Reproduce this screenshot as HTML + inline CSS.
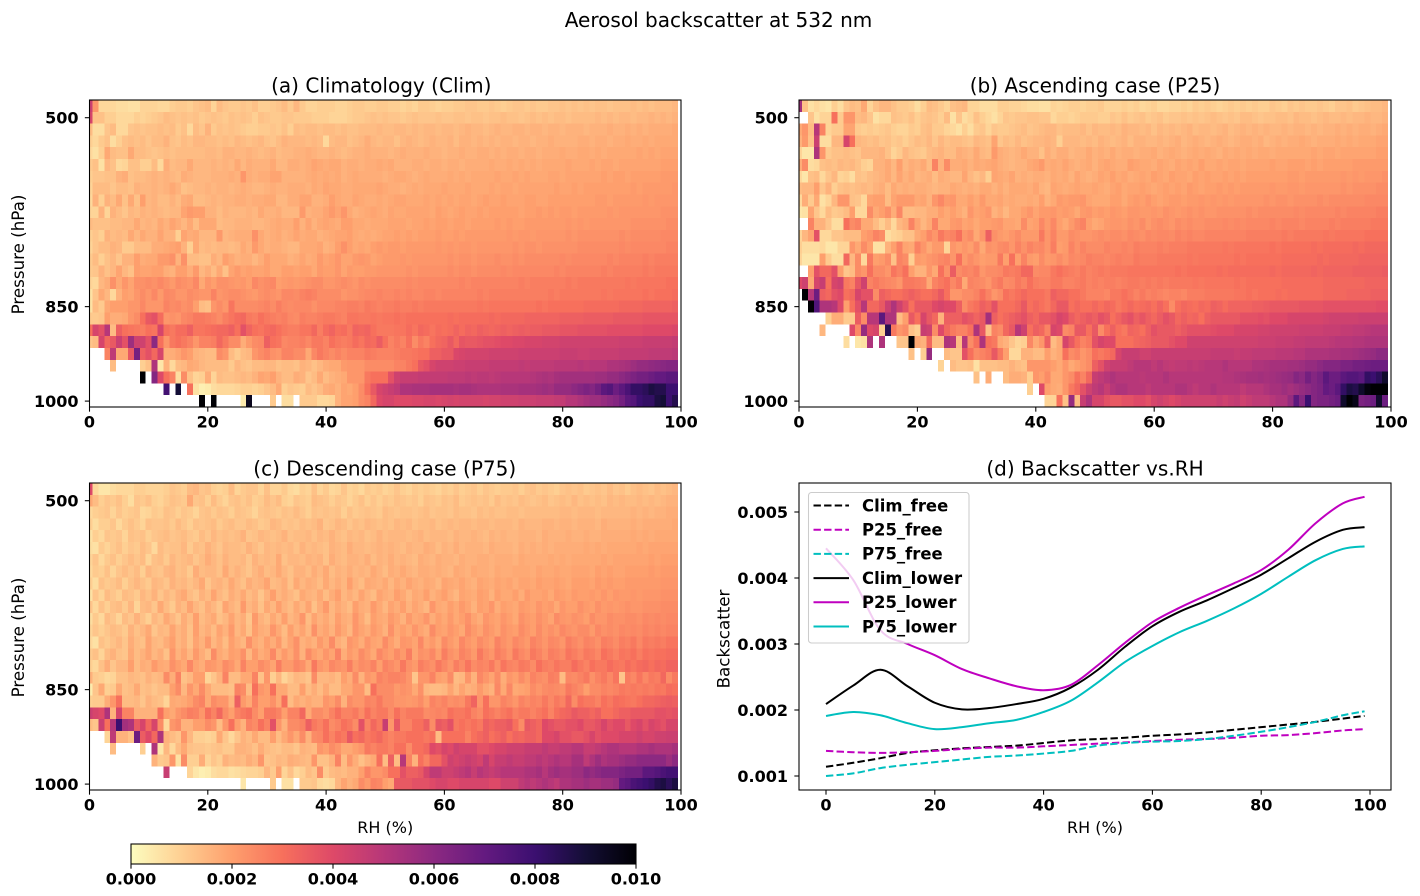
<!DOCTYPE html>
<html lang="en">
<head>
<meta charset="utf-8">
<title>Aerosol backscatter at 532 nm</title>
<style>
html,body{margin:0;padding:0;background:#fff;}
svg{display:block;}
text{font-family:"DejaVu Sans","Liberation Sans",sans-serif;fill:#000;}
.tick{font-weight:bold;font-size:16px;}
.ttl{font-size:20.05px;}
.lab{font-size:16px;}
.vlab{font-size:16.7px;}
.leg{font-weight:bold;font-size:16.45px;}
</style>
</head>
<body>
<svg id="fig" xmlns="http://www.w3.org/2000/svg" width="1420" height="896" viewBox="0 0 1420 896">
<rect x="0" y="0" width="1420" height="896" fill="#fff"/>
<text class="ttl" x="718.5" y="27" text-anchor="middle">Aerosol backscatter at 532 nm</text>
</svg>
<script>
// Heatmap values: backscatter in units of 1e-4 (0 = empty bin, drawn white). Rows top to bottom, columns RH 0..99.
const climRows = [
[45,22,8,8,8,7,7,6,6,9,9,9,8,8,10,11,11,10,12,13,14,9,14,12,11,11,12,11,13,10,10,11,12,14,11,15,11,9,9,10,10,10,9,9,10,11,11,10,10,11,11,10,10,9,10,9,11,11,10,9,10,10,11,11,12,12,11,11,12,11,10,11,12,12,11,12,11,11,12,12,13,12,13,12,13,12,13,13,12,13,13,13,14,13,14,13,14,14,14,15],
[42,13,13,10,10,8,8,8,10,9,10,11,12,14,13,12,13,12,13,11,12,13,12,11,13,12,13,12,10,13,12,11,11,12,12,11,11,11,10,10,10,9,9,9,10,11,11,12,13,12,13,12,12,11,12,13,12,12,12,13,12,12,13,13,12,13,13,12,13,13,14,13,13,12,13,14,13,14,13,14,14,13,14,14,14,14,15,14,15,14,15,15,14,15,15,16,15,16,15,16],
[14,7,7,12,14,8,8,12,13,12,13,13,14,13,14,11,13,8,14,12,16,11,13,12,13,12,11,10,10,11,11,12,11,13,10,14,13,14,14,13,14,14,13,14,13,13,14,14,14,15,14,14,15,15,14,15,14,15,15,14,15,15,14,15,16,15,15,14,15,16,15,15,16,16,15,16,16,15,16,16,15,16,16,16,15,16,16,16,17,16,16,17,16,17,16,17,17,17,17,18],
[10,8,11,13,7,10,13,14,13,14,12,14,14,16,13,12,14,13,15,15,14,14,13,14,13,15,14,13,14,15,13,12,14,16,15,15,15,14,15,14,8,14,15,15,13,14,15,17,15,14,15,15,13,15,16,15,14,15,16,15,15,16,14,16,16,15,16,15,16,15,16,16,15,16,16,15,16,16,17,16,16,16,16,17,17,16,17,17,16,17,17,18,17,17,18,17,18,18,18,18],
[8,6,10,18,14,13,13,18,14,14,13,12,13,14,13,14,14,14,14,14,15,15,14,16,16,15,15,16,15,14,15,16,14,15,15,16,16,17,16,15,15,16,15,14,15,16,16,17,16,16,16,15,16,17,16,16,16,17,16,16,15,16,16,17,16,16,17,17,16,17,16,17,17,16,17,17,16,17,17,17,18,17,17,18,18,17,18,17,18,18,18,18,18,19,18,19,18,19,19,19],
[11,13,6,15,13,8,9,13,13,10,10,14,8,17,14,15,15,18,15,15,15,16,15,16,15,18,15,17,16,16,16,18,15,15,17,17,16,17,19,18,17,18,18,16,17,17,16,17,17,18,17,18,16,16,16,17,17,16,17,17,16,17,17,16,17,17,17,17,18,17,17,18,17,18,17,18,17,18,18,18,18,19,18,18,18,19,18,19,19,18,19,19,19,19,19,19,19,20,20,20],
[10,12,12,13,13,16,17,13,14,14,15,16,15,16,15,14,17,16,15,15,15,16,16,16,17,16,22,17,16,17,17,19,19,16,16,16,16,17,18,17,18,17,18,16,17,18,17,17,17,17,16,17,18,18,17,16,17,18,17,17,17,18,17,18,17,18,18,18,18,19,18,18,19,18,19,18,18,18,19,19,18,19,19,19,19,19,19,20,19,20,20,19,20,20,20,20,20,21,21,21],
[9,14,14,14,12,14,14,13,16,15,15,16,15,16,18,16,13,14,15,15,16,15,16,16,15,16,17,16,15,15,16,17,16,16,17,17,17,16,18,17,19,18,18,17,17,18,18,18,18,19,18,17,17,16,17,18,17,18,18,18,19,18,18,18,19,18,18,18,19,18,19,19,18,19,19,19,19,19,19,20,19,19,20,19,20,20,20,20,20,20,20,20,21,20,21,21,21,21,21,22],
[8,16,10,16,14,18,13,18,13,20,15,16,14,14,16,14,17,18,14,14,15,16,15,16,16,17,17,16,17,17,18,18,15,15,17,17,19,19,16,16,17,20,18,17,17,19,18,17,17,18,17,18,19,19,18,18,18,19,18,19,18,19,18,19,19,18,19,20,19,19,20,19,19,19,20,20,19,19,20,20,20,20,20,20,20,20,21,21,20,21,21,21,21,21,22,21,22,22,22,22],
[9,9,16,9,16,14,12,15,14,16,15,16,15,14,15,15,19,21,20,20,16,16,14,16,15,15,15,16,15,18,16,16,17,15,15,15,21,16,17,17,19,21,19,22,18,16,17,18,19,18,17,19,18,18,19,19,19,19,18,20,19,18,19,20,19,19,20,19,20,20,20,20,20,19,20,20,21,20,21,20,21,21,20,21,21,21,21,21,22,21,22,22,22,22,22,22,22,23,23,23],
[14,13,13,13,14,14,15,15,18,15,16,15,18,16,19,17,15,18,14,18,18,18,14,15,15,16,16,16,15,15,16,17,18,17,17,20,16,19,16,18,19,18,17,20,20,18,18,17,18,18,18,19,19,19,18,19,19,20,19,20,20,19,20,20,19,20,20,20,20,21,20,21,20,20,21,21,21,21,21,21,21,22,21,22,21,22,22,22,22,22,22,22,23,23,23,23,23,23,24,24],
[10,12,10,16,14,15,14,18,15,18,16,16,19,16,16,10,19,17,18,15,15,15,21,15,16,17,17,17,23,18,16,17,18,16,17,19,17,18,18,16,17,18,19,19,20,18,17,18,17,18,19,19,20,19,20,19,20,20,20,21,20,20,21,20,21,21,21,21,21,21,21,22,21,22,22,21,22,22,22,22,22,23,22,23,23,23,23,23,23,23,24,23,24,24,24,24,24,25,25,25],
[9,12,14,14,16,15,11,11,14,14,14,17,17,18,19,20,16,10,18,14,15,14,15,15,14,15,18,16,21,18,16,17,17,16,15,15,18,18,18,19,16,17,20,23,20,18,19,18,20,21,20,21,21,20,21,21,21,21,21,22,21,22,21,22,22,21,22,22,22,22,22,22,23,22,23,23,22,23,23,23,23,23,23,24,24,24,24,24,24,24,25,24,25,25,25,25,25,25,26,26],
[11,14,10,13,15,12,16,16,20,17,18,18,21,21,23,16,23,14,14,13,13,17,15,20,18,16,17,17,15,17,20,18,18,18,16,17,19,17,18,21,19,20,22,19,19,21,22,21,19,20,21,21,21,22,21,22,22,22,22,22,22,23,22,23,23,22,23,23,23,24,23,23,24,23,24,24,24,24,24,24,25,24,25,25,25,25,25,25,26,25,26,26,26,26,27,26,27,27,27,27],
[11,12,16,13,15,19,15,13,20,19,19,20,20,17,16,20,20,17,21,15,17,14,18,13,19,21,19,20,19,19,20,18,18,20,20,19,20,20,18,21,20,20,22,19,21,20,20,21,21,22,22,22,22,22,23,22,23,23,23,23,23,24,23,24,24,23,24,24,24,24,25,24,25,25,25,25,25,25,25,26,25,26,26,26,26,26,26,27,26,27,27,27,27,27,28,27,28,28,28,28],
[9,8,15,17,23,18,22,19,23,23,24,23,25,23,21,24,23,22,25,18,22,20,23,23,22,21,22,20,25,23,24,25,20,21,22,21,22,23,24,24,22,22,23,24,23,22,24,23,24,24,24,24,24,24,25,24,25,25,25,25,25,25,25,26,25,26,26,26,26,26,26,26,26,27,26,27,27,27,27,27,27,28,27,28,28,28,28,28,28,28,28,29,28,29,29,29,29,29,30,30],
[6,12,18,15,8,16,20,19,22,24,22,25,21,25,24,22,22,24,23,22,22,26,22,23,24,24,23,22,21,23,24,23,22,25,25,24,26,27,26,24,24,24,24,22,23,23,24,25,25,26,25,25,26,25,26,25,25,26,26,25,26,26,26,26,26,26,27,26,27,27,27,27,27,27,27,27,27,27,28,27,28,28,28,28,28,28,28,29,28,29,29,29,29,29,30,29,30,30,30,31],
[6,14,11,18,20,20,20,22,22,25,22,22,22,26,24,25,23,24,20,14,13,22,24,22,29,24,24,24,24,25,26,24,27,25,24,25,25,25,23,25,25,25,26,26,27,27,26,28,27,26,27,27,28,27,27,28,27,28,28,28,28,28,28,28,28,28,29,28,29,29,29,29,29,29,29,29,30,29,30,30,30,30,30,30,31,31,31,31,31,31,32,32,32,32,33,33,33,33,33,34],
[11,11,12,20,17,17,18,22,24,30,36,38,31,22,23,22,25,26,28,28,27,26,24,27,29,31,32,28,27,30,28,27,26,27,25,24,27,26,26,27,28,28,27,26,29,29,28,28,29,28,29,29,30,29,30,30,30,30,30,30,30,31,30,31,31,31,31,31,32,31,32,32,32,32,33,33,33,33,33,33,34,34,34,34,35,35,35,35,35,36,36,36,36,36,37,37,37,37,37,37],
[30,42,38,50,14,34,30,29,28,27,30,29,42,30,28,31,31,34,29,29,30,31,32,32,34,30,38,33,30,29,31,32,30,28,27,27,29,29,32,27,31,33,30,31,28,33,32,33,30,28,28,28,29,29,31,29,32,31,29,31,30,31,33,31,33,32,34,33,32,33,34,33,34,35,34,35,35,36,36,36,37,37,37,38,38,38,38,38,39,39,39,39,39,39,40,40,40,40,40,41],
[12,14,42,32,36,45,38,56,44,44,38,60,30,22,28,30,28,26,22,26,26,27,32,28,24,24,17,21,24,25,34,30,29,25,26,26,27,25,28,28,26,30,28,27,28,31,29,32,31,35,30,26,28,26,30,24,28,26,30,32,33,36,32,37,36,36,37,38,38,39,40,40,41,41,42,42,42,43,43,43,44,44,44,44,44,44,44,44,44,44,45,45,45,45,46,46,46,46,46,47],
[0,0,0,26,48,18,18,36,66,34,38,32,42,17,17,19,22,20,16,15,14,14,24,22,14,11,14,15,22,24,26,23,22,26,26,24,24,18,25,28,26,24,26,24,26,26,26,28,27,26,26,26,27,28,28,29,30,30,34,34,36,36,41,42,43,43,43,43,44,44,44,44,44,45,45,45,45,45,45,45,46,46,46,45,45,46,46,46,46,46,47,47,47,47,47,48,48,48,48,49],
[0,0,0,0,14,0,0,0,0,10,13,52,5,16,8,14,15,18,17,15,14,14,14,14,11,15,13,12,14,14,15,15,13,14,14,13,16,15,13,15,17,18,18,21,22,22,22,24,24,24,24,24,26,26,28,30,36,38,42,44,44,44,45,45,46,46,46,46,47,47,47,47,47,48,47,48,48,48,48,49,49,49,49,50,49,50,50,50,52,52,53,54,56,58,58,59,60,61,62,62],
[0,0,0,0,0,0,0,0,0,100,0,62,40,30,26,7,24,13,9,10,17,9,14,13,13,14,15,14,16,19,18,20,16,14,14,17,16,12,14,18,14,16,17,18,22,22,22,28,30,30,30,38,44,46,46,46,47,47,47,47,47,48,48,48,49,48,49,49,48,49,50,50,50,50,50,51,52,53,52,54,55,55,55,55,55,55,56,56,58,58,60,62,64,66,66,68,70,70,72,72],
[0,0,0,0,0,0,0,0,0,0,0,0,0,78,0,90,0,30,6,3,4,7,8,8,8,9,10,10,9,10,12,14,18,10,12,11,10,14,12,14,17,18,16,19,18,20,24,30,36,42,44,46,48,52,52,53,53,53,54,54,54,54,53,54,54,53,52,52,52,52,53,53,53,54,54,54,55,56,55,58,58,58,60,62,64,62,66,72,74,68,72,76,82,82,84,88,86,86,80,80],
[0,0,0,0,0,0,0,0,0,0,0,0,0,0,0,0,0,0,0,100,0,100,0,0,0,0,4,95,0,0,0,11,0,7,7,0,11,11,11,8,8,9,16,19,19,20,24,26,32,40,42,42,40,40,40,41,41,42,42,41,42,43,42,43,43,43,43,42,43,43,44,44,44,45,45,45,46,46,46,47,47,50,50,52,54,56,56,58,60,62,66,72,74,80,82,82,88,90,80,86]
];
const ascRows = [
[55,13,6,8,6,5,10,7,12,14,13,18,9,13,15,15,13,11,11,10,7,10,14,13,11,9,13,14,15,9,9,7,7,7,10,10,9,9,8,7,7,6,6,9,8,9,10,10,9,10,10,11,9,9,9,10,9,10,8,9,10,8,8,9,9,10,9,11,10,11,10,9,10,11,10,11,10,11,10,10,12,11,10,12,11,12,11,11,12,11,10,12,12,13,11,12,13,14,14,15],
[0,0,12,6,9,9,30,11,22,22,14,15,12,6,8,8,13,12,11,13,10,12,13,12,10,14,6,12,7,9,13,10,8,6,9,12,11,12,12,13,13,12,12,8,10,10,9,10,11,11,11,10,10,12,11,13,11,12,13,11,12,13,11,12,12,13,12,13,12,13,14,13,12,13,12,14,14,13,12,13,13,14,14,13,15,14,14,13,14,15,14,14,15,14,15,15,16,15,15,16],
[18,22,14,50,26,9,11,11,19,19,11,10,11,10,11,12,10,9,9,11,10,13,14,11,11,9,8,6,10,7,11,12,9,12,11,11,12,13,14,12,13,14,15,15,13,14,14,14,15,13,15,14,14,15,14,16,15,15,14,15,13,15,14,15,14,15,16,14,15,15,14,15,16,14,15,16,15,16,15,16,15,15,16,15,16,16,15,16,15,16,16,17,16,17,16,17,17,16,17,18],
[16,21,13,45,7,7,15,15,42,30,15,14,13,14,12,13,11,12,10,12,14,13,15,12,15,13,14,14,13,12,15,14,13,19,12,14,13,15,13,14,15,15,16,15,10,15,15,15,14,15,14,16,15,14,15,16,14,16,16,15,15,16,15,16,17,15,16,17,16,15,16,17,16,15,16,17,17,16,17,15,16,17,16,17,17,18,17,16,17,17,17,18,17,18,17,18,18,18,19,19],
[9,5,5,52,22,11,13,13,14,13,12,15,15,15,16,13,9,11,15,13,12,11,14,15,16,14,14,17,16,15,18,15,14,21,17,16,15,16,18,16,16,13,17,15,17,17,15,16,16,18,16,17,16,18,16,17,17,16,17,17,18,16,17,18,17,16,17,18,17,18,17,16,18,17,18,17,18,17,18,18,17,18,18,18,18,18,18,19,18,19,19,18,19,19,19,19,19,19,20,20],
[17,24,7,8,13,14,13,15,14,15,13,10,9,16,16,18,15,20,15,17,16,18,14,26,16,24,17,17,18,16,18,17,18,19,17,16,15,16,16,18,19,21,17,18,17,19,17,16,17,18,16,18,19,18,17,17,20,19,18,18,17,19,18,17,19,18,19,18,20,18,18,19,18,19,19,18,19,19,19,19,20,19,19,20,20,20,19,20,19,20,20,20,20,20,21,21,21,21,21,21],
[8,5,13,14,8,12,15,9,10,7,13,12,14,15,16,18,15,19,16,18,15,16,17,14,17,16,15,15,19,15,13,15,10,19,18,17,19,16,17,16,17,17,16,18,17,18,16,19,17,16,17,19,18,20,18,19,17,18,19,18,20,19,18,20,19,19,18,20,19,20,19,19,20,19,20,19,20,20,20,20,20,20,20,21,21,20,21,21,21,21,21,21,22,21,22,21,22,22,22,23],
[14,15,15,20,12,16,10,13,14,13,14,15,14,16,17,14,18,16,17,16,17,17,16,15,16,16,18,17,16,17,16,18,18,16,18,16,18,18,18,17,19,16,15,19,18,17,18,19,18,18,19,18,17,19,20,18,19,19,20,19,18,19,20,19,20,19,21,20,19,20,20,21,20,21,20,21,21,21,21,21,22,21,21,22,22,21,22,22,22,22,22,22,23,22,23,23,23,23,24,24],
[8,17,11,18,6,9,15,22,22,13,12,8,19,20,20,14,19,21,21,21,18,19,16,22,25,21,22,18,18,20,18,21,18,18,19,17,18,17,17,18,17,20,16,18,21,20,21,21,22,19,18,18,18,20,20,18,20,21,20,22,20,19,20,21,21,20,21,21,22,21,22,21,22,21,22,22,22,22,22,23,22,23,23,22,23,23,23,23,24,23,24,24,24,24,24,24,25,25,25,25],
[5,6,19,12,8,14,11,12,14,20,8,8,24,18,20,23,17,25,14,14,15,15,17,17,20,18,20,18,16,22,19,20,22,16,18,15,18,18,20,22,19,21,21,22,20,21,20,18,21,22,20,21,20,22,21,20,22,22,21,21,22,21,23,22,21,22,23,22,23,22,22,23,23,23,23,23,24,23,24,24,24,24,24,24,25,24,25,25,25,25,25,26,25,26,26,26,26,26,27,27],
[0,0,26,16,16,12,7,7,30,24,26,18,18,14,10,14,8,15,17,26,19,15,18,26,18,18,21,22,19,20,18,20,20,21,22,19,19,18,24,19,20,25,21,25,20,18,21,24,26,20,18,19,21,22,22,21,23,22,24,21,23,24,23,22,24,23,24,23,23,24,24,24,25,24,25,24,25,25,25,25,26,25,26,26,26,25,26,26,26,26,27,26,27,27,27,27,27,28,28,28],
[9,15,19,38,8,8,12,12,14,14,14,20,22,26,24,7,9,10,13,13,18,20,25,22,28,25,26,30,22,24,18,22,34,23,21,20,22,24,21,21,21,28,22,26,21,21,24,23,22,22,23,24,23,24,24,23,25,24,23,25,24,25,25,24,26,25,26,25,25,26,26,26,26,26,26,26,27,27,27,27,27,27,28,27,28,28,28,28,28,29,28,29,29,29,29,29,30,30,30,30],
[10,7,7,7,8,5,5,9,9,22,18,24,20,6,6,16,20,26,19,18,26,22,18,21,21,9,22,20,22,20,24,18,23,22,24,25,22,26,23,26,24,25,22,27,20,21,26,23,26,24,24,24,26,25,25,26,25,27,26,26,26,27,26,27,27,27,28,28,28,28,28,28,29,28,29,29,29,29,29,29,30,29,30,30,30,30,30,31,30,31,31,31,31,31,32,31,32,32,32,32],
[9,5,5,5,20,11,7,7,32,15,24,8,28,20,21,24,13,26,24,10,21,20,22,23,25,26,22,30,21,24,22,20,21,21,28,20,30,20,26,21,20,24,21,22,24,22,25,24,25,27,26,26,25,26,27,26,26,28,27,27,27,28,28,28,28,28,29,28,29,29,29,29,29,29,30,29,30,30,30,30,30,30,31,31,31,31,31,31,32,31,32,32,32,32,32,33,33,33,33,33],
[0,0,20,38,32,32,38,20,12,14,24,22,30,24,24,22,29,26,30,20,16,16,22,18,30,23,35,24,26,25,27,22,24,24,25,28,27,28,32,32,24,25,25,28,30,28,27,26,28,26,27,28,27,28,28,28,29,29,29,29,29,29,29,29,30,29,30,30,30,30,30,31,30,31,31,31,31,31,31,31,32,31,32,32,32,32,32,33,32,33,33,33,33,33,34,34,34,34,34,35],
[40,44,18,42,46,30,42,44,28,26,36,44,26,28,26,25,24,22,28,28,27,26,18,26,28,30,25,28,18,26,25,24,22,26,28,24,25,28,26,30,27,26,26,28,28,26,26,27,28,26,27,26,27,27,26,27,28,28,27,28,27,28,27,28,28,28,28,29,28,29,29,29,29,29,30,29,30,30,30,30,30,30,31,31,31,31,31,31,31,32,32,32,32,32,32,32,33,33,33,33],
[0,100,50,68,34,32,38,40,30,32,42,38,38,24,34,32,30,30,32,34,32,30,30,32,36,30,22,22,24,24,26,30,26,22,24,30,28,30,32,30,30,30,28,34,32,32,30,30,28,26,26,26,25,28,28,30,28,26,28,26,27,26,25,26,26,25,27,27,27,28,28,28,28,28,29,29,30,29,30,30,30,31,30,31,31,31,31,31,31,32,32,32,32,33,33,33,33,34,34,34],
[0,0,100,75,52,52,50,40,20,30,38,50,32,32,36,45,52,44,38,30,36,36,36,40,42,40,40,34,24,28,30,34,32,38,30,30,30,32,36,30,32,30,28,32,36,36,30,32,30,30,32,30,32,31,28,30,32,30,31,32,30,33,30,24,30,32,31,30,32,31,34,33,31,33,33,33,33,34,34,35,36,36,36,36,36,37,37,37,37,38,38,38,38,38,38,38,38,38,39,39],
[0,0,0,0,0,10,17,17,11,11,35,24,50,50,72,52,52,14,20,36,30,42,36,32,16,34,34,34,38,36,33,36,55,34,30,32,34,36,38,34,32,36,36,38,42,40,35,32,34,36,34,38,36,30,33,36,38,34,37,34,32,35,38,36,32,34,32,33,30,34,36,36,36,36,36,38,38,38,39,38,40,40,40,42,42,42,42,42,42,43,44,44,44,44,44,45,45,45,45,45],
[0,0,0,0,15,0,0,0,0,40,25,58,40,42,10,85,28,22,24,13,10,46,44,24,40,32,28,26,26,30,52,36,13,26,24,32,36,50,44,30,34,32,26,42,40,24,26,36,36,30,36,24,30,34,30,28,33,32,30,34,38,36,36,36,34,36,38,38,38,38,39,40,40,40,42,42,42,42,43,43,44,44,44,44,44,45,45,45,45,46,46,46,47,47,48,48,49,50,50,50],
[0,0,0,0,0,0,0,0,7,0,5,6,52,0,52,0,0,12,12,100,18,16,32,14,14,52,50,14,50,24,30,52,30,28,18,16,12,9,10,25,18,22,34,14,18,42,36,30,26,28,38,42,40,40,30,30,30,32,33,34,36,36,36,38,40,40,44,44,44,44,44,44,44,44,44,44,44,44,45,45,45,46,46,46,47,47,48,48,48,48,49,50,50,50,51,51,52,52,52,52],
[0,0,0,0,0,0,0,0,0,0,0,0,0,0,0,0,0,0,0,13,0,10,58,0,0,14,12,12,38,30,24,26,28,36,28,20,8,8,16,16,14,14,20,16,18,30,24,26,22,24,30,28,30,32,42,46,46,46,44,44,46,46,46,46,46,46,46,46,46,46,47,47,47,47,46,47,47,48,48,48,48,49,49,49,50,50,52,52,52,52,53,53,54,54,55,56,57,58,60,60],
[0,0,0,0,0,0,0,0,0,0,0,0,0,0,0,0,0,0,0,0,0,0,0,0,9,0,14,12,12,13,6,13,13,13,14,14,16,14,13,22,22,22,22,20,18,22,18,20,22,24,34,38,44,46,46,46,48,50,50,50,48,50,48,47,48,48,49,48,49,50,50,50,52,50,50,50,50,52,52,53,54,54,54,55,55,56,58,58,60,62,62,62,64,64,66,66,67,68,68,68],
[0,0,0,0,0,0,0,0,0,0,0,0,0,0,0,0,0,0,0,0,0,0,0,0,0,0,0,0,0,0,13,0,17,0,0,14,17,17,16,10,22,20,24,18,18,22,24,30,26,32,46,48,50,52,50,50,50,50,49,50,50,50,52,50,50,50,50,50,50,50,50,50,51,51,52,53,54,54,55,54,55,56,57,58,62,60,66,62,65,72,68,68,72,74,74,72,82,80,84,92],
[0,0,0,0,0,0,0,0,0,0,0,0,0,0,0,0,0,0,0,0,0,0,0,0,0,0,0,0,0,0,0,0,0,0,0,0,0,0,0,10,0,40,20,18,17,22,28,32,38,44,48,50,46,50,52,52,50,50,50,48,50,50,50,50,52,52,50,48,50,50,52,50,50,50,50,48,50,50,50,52,54,54,56,54,56,58,60,62,64,70,68,72,82,88,86,92,98,100,100,100],
[0,0,0,0,0,0,0,0,0,0,0,0,0,0,0,0,0,0,0,0,0,0,0,0,0,0,0,0,0,0,0,0,0,0,0,0,0,0,0,0,0,0,9,9,30,13,58,14,46,52,42,42,38,36,36,38,38,40,40,38,42,44,42,40,42,44,44,44,44,44,44,46,44,46,47,44,46,48,48,48,50,52,52,58,72,62,80,62,64,64,66,68,92,100,96,64,66,68,92,68]
];
const descRows = [
[40,8,5,5,7,8,8,8,10,10,9,9,9,10,12,11,10,14,15,12,13,10,9,10,14,9,11,12,12,9,13,9,9,11,8,7,10,9,13,9,11,8,9,12,9,10,8,11,10,11,9,10,12,10,9,11,10,11,10,9,11,10,12,10,11,12,10,12,11,10,11,11,12,10,12,13,11,12,11,10,12,13,12,13,11,12,13,12,14,12,13,11,13,14,13,12,14,13,14,15],
[18,14,10,12,11,13,10,7,12,11,13,10,9,11,13,12,11,18,12,13,10,14,11,9,12,13,11,13,10,11,14,12,14,10,9,12,11,10,14,13,12,10,12,11,9,11,13,10,12,10,12,11,13,12,11,12,10,13,12,11,13,12,14,11,12,13,12,13,11,14,12,13,12,14,13,12,13,14,12,13,14,13,15,13,14,13,14,13,15,14,15,14,14,15,14,15,14,15,16,16],
[8,10,11,12,9,12,10,11,12,8,9,11,10,13,12,10,12,11,9,12,13,11,13,12,10,13,12,11,9,12,13,12,11,13,12,14,12,10,13,12,13,12,13,10,13,11,12,13,12,11,14,13,12,13,13,12,13,14,12,13,13,12,14,13,13,12,14,13,14,13,13,14,14,13,14,14,14,14,14,14,15,15,14,15,15,15,14,15,15,15,15,15,16,15,16,15,16,16,17,17],
[10,7,10,10,12,8,11,13,11,9,13,12,12,13,11,14,12,10,13,12,13,14,11,13,14,12,12,14,13,11,12,15,14,12,13,12,14,13,14,16,12,13,15,14,12,14,13,15,14,13,14,13,15,14,15,13,14,14,15,13,14,15,14,15,15,14,15,15,14,15,15,15,14,16,15,15,15,16,16,15,16,16,15,16,16,16,15,17,16,16,16,16,17,16,17,17,17,17,17,18],
[6,10,8,12,11,12,9,13,12,13,10,12,13,14,12,13,14,12,11,14,12,15,13,14,13,14,16,12,13,15,14,13,14,16,13,14,14,15,13,15,14,16,14,13,15,14,15,13,14,16,14,15,15,15,14,15,16,14,15,15,15,14,16,15,15,16,15,14,16,15,16,15,15,16,16,16,15,17,16,16,16,17,16,16,17,16,16,17,17,17,17,17,18,17,18,17,18,18,18,18],
[7,6,11,9,11,13,10,12,11,14,12,8,14,12,13,13,15,11,14,13,16,14,12,15,14,14,13,16,14,12,15,14,15,14,15,13,16,14,15,14,13,16,15,14,17,15,15,14,15,16,15,16,15,14,16,15,15,17,16,14,16,15,17,15,16,16,16,15,17,16,16,16,15,17,16,17,16,17,16,17,17,17,17,17,18,17,18,17,18,18,18,18,18,19,18,19,19,19,19,19],
[9,12,8,11,13,10,12,14,12,14,9,13,14,11,15,13,14,15,12,14,17,15,13,16,14,14,15,12,16,14,15,14,18,13,15,15,14,16,15,16,13,17,15,14,16,16,15,17,14,16,15,17,15,16,15,14,17,16,15,17,16,16,15,17,16,16,17,17,16,17,17,17,16,18,17,17,17,17,18,17,18,17,18,18,18,18,18,19,18,19,19,19,19,19,19,20,19,20,20,20],
[8,11,10,13,9,12,14,12,14,10,15,13,12,15,16,13,14,11,17,14,15,15,13,18,14,16,14,12,15,17,14,15,18,15,13,16,16,14,17,15,18,14,16,15,17,15,16,15,18,16,14,17,16,18,16,15,17,17,16,17,16,15,18,17,16,18,17,17,16,18,17,17,18,18,18,17,19,18,18,19,18,18,19,19,19,18,20,19,20,19,19,20,20,20,20,21,20,21,21,21],
[10,7,13,11,12,14,10,13,15,13,11,15,14,12,16,14,15,13,15,18,12,15,16,14,18,15,13,17,15,16,19,14,15,17,13,18,15,17,16,14,18,15,17,15,20,16,14,18,17,16,18,15,18,16,19,17,16,18,17,15,19,18,17,19,17,16,19,18,17,19,18,19,17,19,19,18,20,19,19,20,19,18,20,20,20,19,21,20,21,20,20,21,21,21,21,21,21,22,22,22],
[6,12,9,14,12,10,14,13,11,15,13,16,12,15,13,16,18,14,12,16,14,19,15,13,17,15,18,14,16,12,16,20,15,17,15,13,18,16,15,18,14,17,20,15,17,15,19,16,14,19,17,16,20,18,15,18,17,20,16,18,20,17,15,19,18,17,20,19,16,20,18,18,20,17,21,19,19,20,18,21,20,19,21,20,20,21,20,22,20,22,21,21,22,21,22,22,22,23,23,23],
[12,8,13,10,13,14,11,15,9,14,15,12,18,14,11,16,14,19,15,13,17,15,12,19,16,14,21,15,17,13,18,15,20,16,14,18,15,19,13,17,21,15,18,16,14,20,17,16,21,18,15,19,17,20,16,19,17,15,22,18,17,20,18,21,19,16,20,19,22,17,20,19,18,21,20,19,22,20,21,18,22,20,20,23,21,20,23,21,22,21,22,23,22,22,23,23,23,24,24,24],
[7,11,8,14,12,9,14,12,16,13,10,15,13,18,15,12,17,14,20,14,16,18,13,15,19,15,17,12,21,16,14,18,15,20,15,17,22,14,19,16,18,15,20,17,16,22,18,14,20,18,17,21,19,16,21,18,19,22,17,20,18,21,18,20,23,19,17,22,20,19,22,20,18,23,21,20,23,21,19,24,22,21,23,22,20,24,22,22,24,23,23,24,24,23,25,24,25,24,25,25],
[9,12,10,12,14,13,11,16,13,15,18,12,15,14,19,15,17,13,20,15,17,14,19,16,21,15,18,13,20,17,16,22,18,14,20,16,19,15,23,17,19,16,21,18,15,22,19,17,21,19,16,23,18,20,18,22,19,17,24,20,19,22,20,18,24,21,19,23,21,19,23,21,20,24,22,20,24,21,23,21,25,23,22,24,24,21,25,23,24,23,25,24,25,24,26,25,26,25,26,26],
[8,6,13,11,13,15,12,17,14,13,19,15,14,17,20,15,17,13,19,16,21,15,18,14,20,17,15,23,18,16,20,17,21,15,19,23,16,18,16,21,18,24,17,15,22,20,17,22,19,18,24,20,17,22,21,19,25,19,21,18,24,21,19,25,22,20,24,22,20,26,23,21,25,23,21,26,24,22,25,24,22,27,25,23,26,25,23,27,26,24,27,26,28,25,28,27,28,27,29,29],
[11,13,9,14,16,13,12,18,14,16,19,15,17,13,22,16,19,15,21,17,14,24,18,16,20,19,23,15,21,17,19,25,17,21,18,23,16,24,20,18,22,19,26,17,21,19,24,21,18,25,22,20,24,21,27,19,23,22,25,20,27,23,21,26,24,21,28,24,22,27,25,22,28,25,23,28,26,23,27,26,24,29,27,25,28,27,25,30,28,26,29,28,30,27,30,29,30,30,31,31],
[10,8,13,17,12,15,15,20,14,17,16,21,18,17,23,20,18,25,19,17,22,21,19,24,22,18,26,20,20,24,22,19,27,21,21,25,23,18,28,22,20,25,23,22,27,21,24,23,26,20,26,24,22,28,23,21,27,25,23,28,25,22,27,24,29,24,26,25,28,23,29,26,25,28,27,24,30,27,26,29,27,27,31,28,26,30,28,28,31,29,28,31,29,31,32,30,32,31,33,33],
[16,11,10,8,9,13,13,15,14,13,16,14,15,24,17,26,13,15,20,20,9,12,16,26,14,14,18,18,26,13,22,10,15,9,12,15,14,12,24,15,15,16,14,20,17,24,16,22,20,26,24,26,26,25,22,12,22,22,26,20,19,24,14,15,22,16,25,22,19,24,17,22,20,24,21,26,24,23,27,26,14,25,24,26,28,23,26,28,25,29,12,27,25,29,25,28,27,32,24,28],
[4,12,18,10,11,18,13,14,18,13,14,12,14,14,20,24,15,22,18,24,18,14,14,14,13,26,24,14,30,22,20,30,18,18,14,14,20,14,17,14,18,14,14,18,18,22,22,14,30,24,24,24,21,23,22,18,23,15,14,14,15,19,15,19,16,17,21,18,16,25,18,25,18,19,20,24,22,24,25,24,23,28,26,24,20,24,24,26,25,26,28,27,28,27,28,27,29,28,31,30],
[10,11,11,17,22,30,14,14,15,12,16,14,13,9,18,17,18,20,24,26,18,24,22,22,16,34,21,18,26,20,20,23,18,30,14,18,16,18,16,16,22,20,24,16,24,22,22,26,25,28,24,24,22,22,21,22,24,20,26,24,26,23,24,23,28,33,22,30,22,22,26,24,22,26,24,26,25,28,25,28,26,32,24,30,28,28,26,30,28,31,30,29,28,30,32,32,33,34,35,34],
[45,42,40,52,16,42,26,26,16,16,16,16,30,20,18,22,24,27,26,22,30,26,32,24,20,26,28,30,24,20,28,28,26,20,26,26,32,18,24,24,22,26,30,26,26,28,24,30,26,28,28,24,30,26,28,28,28,24,25,26,25,30,28,28,30,26,24,30,28,26,28,30,26,28,28,26,28,30,26,30,32,33,36,34,34,32,34,30,30,32,34,34,36,36,36,36,38,38,37,38],
[14,12,45,30,50,80,55,52,36,42,32,42,24,8,22,24,16,16,20,20,24,22,14,22,30,20,16,26,24,30,26,38,22,16,24,24,26,34,28,26,30,24,26,30,28,24,38,26,32,28,46,22,36,26,26,30,30,34,24,36,34,38,28,30,28,30,28,34,32,34,34,36,30,24,36,34,32,40,38,36,36,38,38,40,36,36,38,42,38,40,40,36,40,42,38,42,40,38,42,42],
[0,0,0,9,48,16,16,13,68,35,40,32,52,16,14,12,22,15,10,10,9,10,18,12,8,12,16,14,18,14,14,20,14,18,22,18,24,16,24,25,30,26,30,28,36,30,32,28,30,32,28,26,28,28,30,30,30,28,30,14,30,30,30,30,26,30,32,34,30,32,34,30,33,32,34,34,32,40,40,42,38,38,36,36,38,42,38,40,40,40,42,42,42,44,42,42,44,44,45,45],
[0,0,0,0,14,0,0,0,0,10,0,52,5,15,8,14,18,13,12,12,11,12,13,11,11,16,16,15,13,17,14,13,12,14,14,12,16,15,14,22,20,24,22,18,18,20,22,28,26,28,28,26,30,30,24,30,30,32,40,38,42,40,44,42,42,42,38,38,40,42,42,44,44,44,46,46,46,48,46,46,48,48,50,50,46,46,48,50,52,52,50,50,50,52,52,54,52,52,52,54],
[0,0,0,0,0,0,0,0,0,0,0,16,11,12,22,6,24,10,10,17,9,12,10,16,14,15,14,17,15,22,12,13,15,14,17,16,15,14,22,13,13,16,26,14,22,17,13,16,18,30,14,34,14,50,26,16,30,26,32,32,38,44,42,44,46,44,42,48,42,46,46,48,46,46,48,48,50,48,50,52,50,50,54,54,48,52,56,52,54,54,56,58,58,60,60,60,60,60,56,60],
[0,0,0,0,0,0,0,0,0,0,0,0,0,46,0,0,0,9,5,3,4,7,8,8,6,7,8,9,9,10,15,11,20,9,13,8,10,14,12,24,11,14,15,14,16,16,20,26,22,22,24,30,30,38,34,34,36,42,48,48,44,44,46,48,50,46,50,48,46,48,50,50,50,50,52,52,54,50,54,56,54,54,56,56,60,58,60,62,62,62,64,66,66,66,72,72,74,76,78,78],
[0,0,0,0,0,0,0,0,0,0,0,0,0,0,0,0,0,0,0,0,0,0,0,0,0,0,5,0,0,0,0,11,0,6,6,0,11,11,12,8,7,8,15,19,16,18,24,21,26,25,20,18,36,36,36,38,38,38,40,42,42,40,40,42,42,42,42,42,40,40,44,44,44,48,50,48,50,52,50,48,52,52,54,54,56,54,54,56,56,58,70,72,76,78,80,82,86,88,84,88]
];
// Panel (d) line data. RH sampling positions and backscatter values at each position.
const rhKnots = [0,5,10,15,20,25,30,35,40,45,50,55,60,65,70,75,80,85,90,95,99];
const climFree = [.00114,.00120,.00127,.00135,.00139,.00142,.00144,.00146,.00150,.00154,.00156,.00158,.00161,.00163,.00166,.00170,.00174,.00178,.00182,.00187,.00191];
const p25Free = [.00138,.00136,.00135,.00136,.00138,.00141,.00143,.00143,.00145,.00147,.00149,.00151,.00153,.00155,.00156,.00158,.00161,.00162,.00165,.00169,.00171];
const p75Free = [.00100,.00104,.00112,.00117,.00121,.00125,.00129,.00131,.00134,.00138,.00146,.00150,.00152,.00153,.00156,.00161,.00167,.00174,.00182,.00192,.00198];
const climLower = [.00209,.00237,.00261,.00236,.00211,.00201,.00203,.00209,.00217,.00234,.00261,.00296,.00327,.00349,.00366,.00385,.00405,.00430,.00455,.00473,.00477];
const p25Lower = [.00445,.00397,.00321,.00300,.00283,.00262,.00248,.00236,.00230,.00238,.00268,.00302,.00333,.00355,.00374,.00392,.00412,.00443,.00483,.00513,.00523];
const p75Lower = [.00191,.00197,.00192,.00180,.00171,.00174,.00180,.00185,.00197,.00214,.00242,.00273,.00297,.00318,.00335,.00354,.00376,.00402,.00427,.00444,.00448];
const legendLabels = ["Clim_free","P25_free","P75_free","Clim_lower","P25_lower","P75_lower"];
// Axis ticks
const rhTicks = [0,20,40,60,80,100];
const pressureLabels = ["500","850","1000"];
const pressureTickRows = [1,17,25];
const rowCount = 26;
const lineTicks = [0.001,0.002,0.003,0.004,0.005];
const lineRhTicks = [0,20,40,60,80];
const colorbarTicks = [0,0.002,0.004,0.006,0.008,0.01];
// magma_r colour map stops, from value 0 to 1e-2
const cmapStops = ["#fcfdbf","#fecf92","#fe9f6d","#f7705c","#de4968","#b73779","#8c2981","#641a80","#3b0f70","#140e36","#000004"];

const NS = "http://www.w3.org/2000/svg";
const fig = document.getElementById("fig");
function hexRgb(h){return [parseInt(h.slice(1,3),16),parseInt(h.slice(3,5),16),parseInt(h.slice(5,7),16)];}
function colorFor(v){
  const t = Math.min(1,Math.max(0,v/100))*(cmapStops.length-1);
  const i = Math.min(cmapStops.length-2,Math.floor(t));
  const a = hexRgb(cmapStops[i]), b = hexRgb(cmapStops[i+1]), f = t-i;
  return "rgb("+[0,1,2].map(k=>Math.round(a[k]+(b[k]-a[k])*f)).join(",")+")";
}
function el(tag,attrs,parent){
  const e = document.createElementNS(NS,tag);
  for(const k in attrs){e.setAttribute(k,attrs[k]);}
  (parent||fig).appendChild(e);
  return e;
}
function drawLabel(parent,str,x,y,cls,anchor,name){
  const t = el("text",{x:x,y:y,class:cls,"text-anchor":anchor},parent);
  t.textContent = str;
  
  
  return t;
}
function tickLine(parent,x1,y1,x2,y2,name){
  const l = el("line",{x1:x1,y1:y1,x2:x2,y2:y2,stroke:"#000","stroke-width":1.07},parent);
  
  
}
function drawFrame(parent,b,name){
  const r = el("rect",{x:b.l,y:b.t,width:b.r-b.l,height:b.b-b.t,fill:"none",stroke:"#000","stroke-width":1.07},parent);
  
  
}
function drawHeatmap(key,rows,b,title,showX,titleShift){
  const g = el("g",{},fig);
  
  
  const xS = v => b.l+(b.r-b.l)*v/100;
  const yS = r => b.t+(b.b-b.t)*r/rowCount;
  const cells = el("g",{"shape-rendering":"crispEdges"},g);
  
  
  rows.forEach((row,r)=>{
    row.forEach((v,c)=>{
      if(!v){return;}
      const x0 = xS(Math.max(0,c-0.5)), x1 = xS(c+0.5);
      const cell = el("rect",{x:x0,y:yS(r),width:x1-x0,height:yS(r+1)-yS(r),fill:colorFor(v)},cells);
      
      
    });
  });
  drawFrame(g,b,key+'-axes-frame');
  rhTicks.forEach(t=>{
    tickLine(g,xS(t),b.b,xS(t),b.b+4.67,'x-axis-tick');
    drawLabel(g,String(t),xS(t),b.b+20.5,"tick","middle",'x-tick-label');
  });
  pressureTickRows.forEach((r,i)=>{
    const y = yS(r+0.5);
    tickLine(g,b.l-4.67,y,b.l,y,'y-axis-tick');
    drawLabel(g,pressureLabels[i],b.l-11,y+6,"tick","end",'y-tick-label');
  });
  drawLabel(g,title,(b.l+b.r)/2+titleShift,b.t-7.5,"ttl","middle",key+'-panel-title');
  if(b.l<400){
    const yl = drawLabel(g,"Pressure (hPa)",0,0,"vlab","middle",'y-axis-title');
    yl.setAttribute("transform","translate(24,"+((b.t+b.b)/2+1)+") rotate(-90)");
  }
  if(showX){drawLabel(g,"RH (%)",(b.l+b.r)/2,b.b+43,"lab","middle",'x-axis-title');}
}
drawHeatmap("climatology",climRows,{l:89.5,r:681,t:100,b:407},"(a) Climatology (Clim)",false,-4);
drawHeatmap("ascending",ascRows,{l:799,r:1391,t:100,b:407},"(b) Ascending case (P25)",false,0);
drawHeatmap("descending",descRows,{l:89.5,r:681,t:483,b:790},"(c) Descending case (P75)",true,-0.5);

// Panel (d)
const dBox = {l:799,r:1391,t:483,b:790};
const lineX = v => 826+5.44*v;
const lineY = v => 776-(v-0.001)*66000;
const gD = el("g",{},fig);


function drawCurve(values,color,dashed,name){
  const pts = values.map((v,i)=>[lineX(rhKnots[i]),lineY(v)]);
  let d = "M"+pts[0][0]+" "+pts[0][1];
  for(let i=0;i<pts.length-1;i++){
    const p0=pts[Math.max(0,i-1)],p1=pts[i],p2=pts[i+1],p3=pts[Math.min(pts.length-1,i+2)];
    const c1=[p1[0]+(p2[0]-p0[0])/6,p1[1]+(p2[1]-p0[1])/6];
    const c2=[p2[0]-(p3[0]-p1[0])/6,p2[1]-(p3[1]-p1[1])/6];
    d += "C"+c1[0]+" "+c1[1]+" "+c2[0]+" "+c2[1]+" "+p2[0]+" "+p2[1];
  }
  const attrs = {d:d,fill:"none",stroke:color,"stroke-width":2};
  if(dashed){attrs["stroke-dasharray"]="7.4 3.2";}
  const p = el("path",attrs,gD);
  
  
}
drawCurve(climFree,"#000",true,'clim-free-line');
drawCurve(p25Free,"#bf00bf",true,'p25-free-line');
drawCurve(p75Free,"#00bfbf",true,'p75-free-line');
drawCurve(climLower,"#000",false,'clim-lower-line');
drawCurve(p25Lower,"#bf00bf",false,'p25-lower-line');
drawCurve(p75Lower,"#00bfbf",false,'p75-lower-line');
drawFrame(gD,dBox,'line-axes-frame');
lineRhTicks.forEach(t=>{
  tickLine(gD,lineX(t),dBox.b,lineX(t),dBox.b+4.67,'x-axis-tick');
  drawLabel(gD,String(t),lineX(t),dBox.b+20.5,"tick","middle",'x-tick-label');
});
tickLine(gD,lineX(100),dBox.b,lineX(100),dBox.b+4.67,'x-axis-tick');
drawLabel(gD,"100",lineX(100),dBox.b+20.5,"tick","middle",'x-tick-label');
lineTicks.forEach(t=>{
  tickLine(gD,dBox.l-4.67,lineY(t),dBox.l,lineY(t),'y-axis-tick');
  drawLabel(gD,t.toFixed(3),dBox.l-11,lineY(t)+6,"tick","end",'y-tick-label');
});
drawLabel(gD,"(d) Backscatter vs.RH",(dBox.l+dBox.r)/2,dBox.t-7.5,"ttl","middle",'line-panel-title');
drawLabel(gD,"RH (%)",(dBox.l+dBox.r)/2,dBox.b+43,"lab","middle",'x-axis-title');
const ylD = drawLabel(gD,"Backscatter",0,0,"vlab","middle",'y-axis-title');
ylD.setAttribute("transform","translate(729.5,639) rotate(-90)");

// Legend
const legend = el("g",{},gD);


const legendBox = el("rect",{x:808.5,y:492.5,width:160.5,height:150.5,rx:3,ry:3,fill:"#fff","fill-opacity":0.8,stroke:"#ccc","stroke-width":1.07},legend);


const legendColors = ["#000","#bf00bf","#00bfbf","#000","#bf00bf","#00bfbf"];
legendLabels.forEach((lab,i)=>{
  const y = 505.5+24.2*i;
  const attrs = {x1:813.5,y1:y,x2:849,y2:y,stroke:legendColors[i],"stroke-width":2};
  if(i<3){attrs["stroke-dasharray"]="7.4 3.2";}
  const h = el("line",attrs,legend);
  
  
  drawLabel(legend,lab,862,y+5.8,"leg","start",'legend-entry-label');
});

// Colorbar
const cbar = {l:131,r:636,t:844,b:864};
const cbarX = v => cbar.l+(cbar.r-cbar.l)*v/0.01;
const gC = el("g",{},fig);


const defs = el("defs",{},gC);
const grad = el("linearGradient",{id:"cbarGrad",x1:"0",x2:"1",y1:"0",y2:"0"},defs);
cmapStops.forEach((c,i)=>{el("stop",{offset:i/(cmapStops.length-1),"stop-color":c},grad);});
const cbarRect = el("rect",{x:cbar.l,y:cbar.t,width:cbar.r-cbar.l,height:cbar.b-cbar.t,fill:"url(#cbarGrad)",stroke:"#000","stroke-width":1.07},gC);


colorbarTicks.forEach(t=>{
  tickLine(gC,cbarX(t),cbar.b,cbarX(t),cbar.b+4.67,'colorbar-tick');
  drawLabel(gC,t.toFixed(3),cbarX(t),cbar.b+20.5,"tick","middle",'colorbar-tick-label');
});
</script>
</body>
</html>
